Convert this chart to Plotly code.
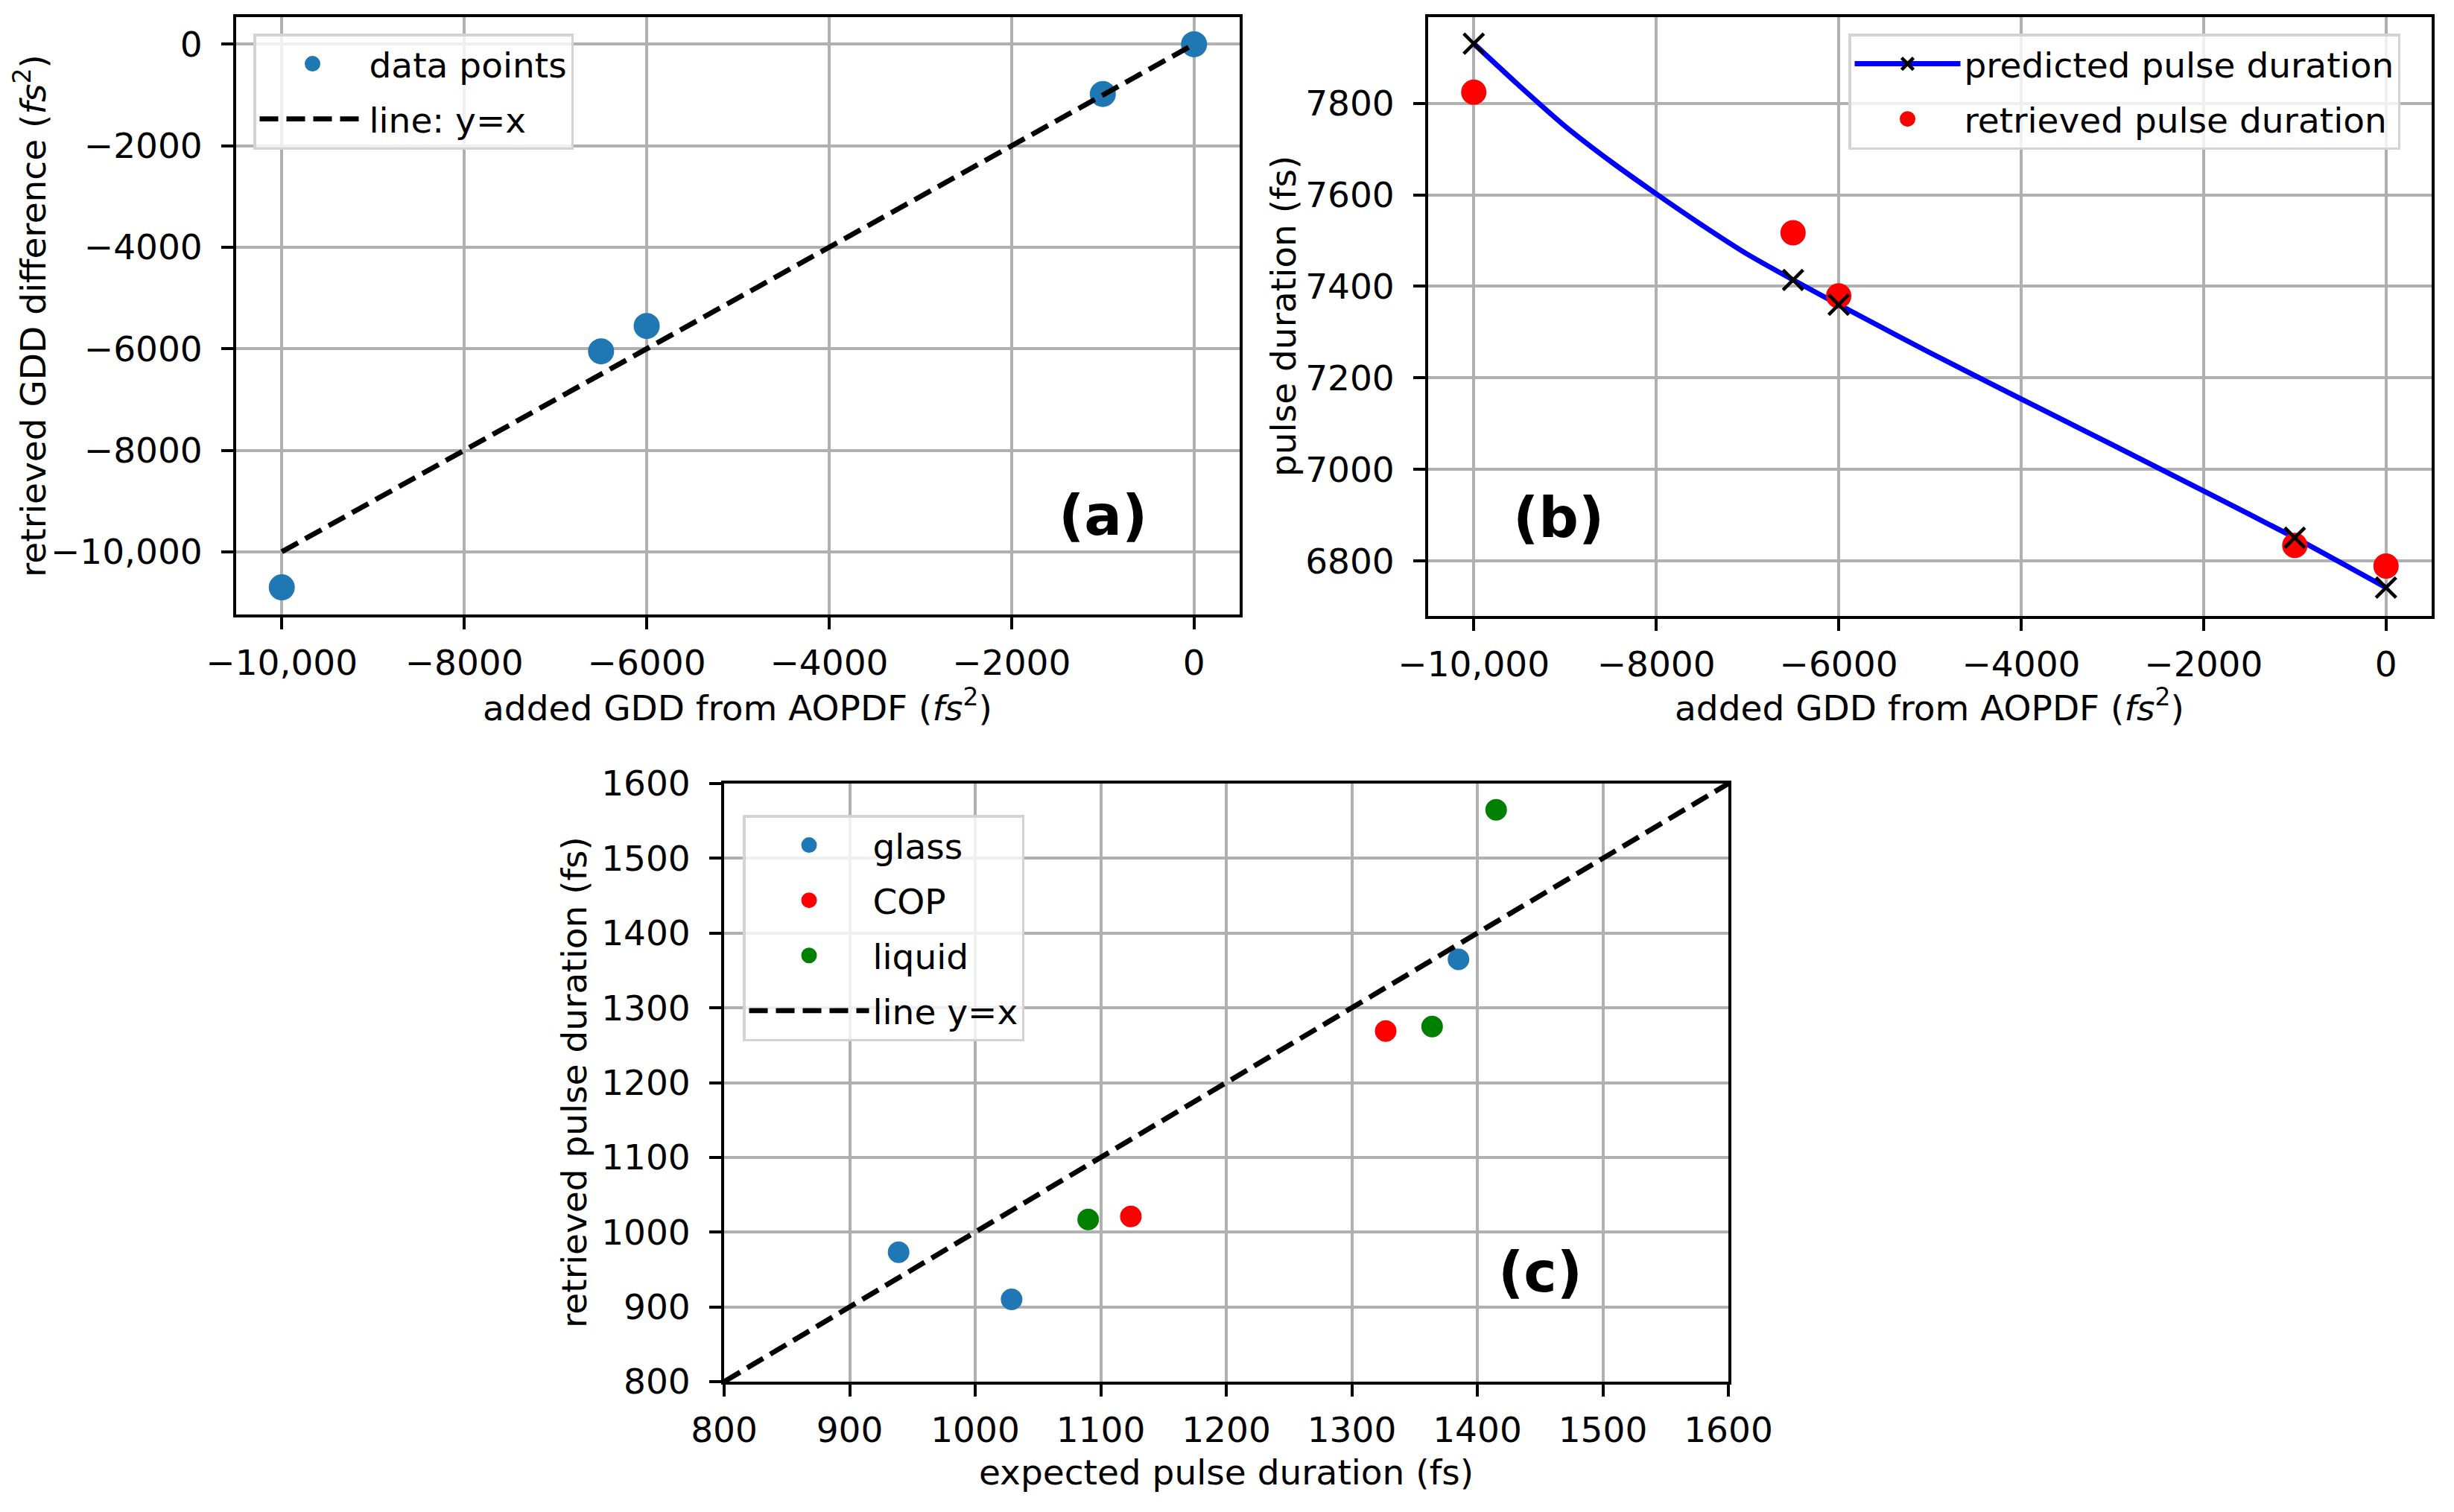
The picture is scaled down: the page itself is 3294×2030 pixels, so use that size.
import plotly.graph_objects as go

# ---------------- data ----------------
# panel (a)
gdd_added = [-10000, -6500, -6000, -1000, 0]
gdd_retrieved = [-10700, -6050, -5550, -980, 0]
line_a = [-10000, 0]

# panel (b)
pred_gdd = [-10000, -6500, -6000, -1000, 0]
pred_tau = [7930, 7414, 7360, 6851, 6742]
ret_tau = [7824, 7517, 7379, 6834, 6789]
curve_gdd = [-10000, -9500, -9000, -8500, -8000, -7500, -7000, -6500, -6000,
             -5000, -4000, -3000, -2000, -1000, 0]
curve_tau = [7930, 7838, 7750, 7673, 7602, 7534, 7470, 7414, 7360,
             7255, 7154, 7054, 6953, 6851, 6742]

# panel (c)
glass_exp = [939, 1029, 1385]
glass_ret = [973, 910, 1365]
cop_exp = [1124, 1327]
cop_ret = [1021, 1269]
liquid_exp = [1090, 1364, 1415]
liquid_ret = [1017, 1275, 1565]
line_c = [800, 1600]

# tick labels
gdd_ticks = [-10000, -8000, -6000, -4000, -2000, 0]
gdd_ticktext = ["\u221210,000", "\u22128000", "\u22126000", "\u22124000", "\u22122000", "0"]
tau_ticks = [6800, 7000, 7200, 7400, 7600, 7800]
tau_ticktext = ["6800", "7000", "7200", "7400", "7600", "7800"]
c_ticks = [800, 900, 1000, 1100, 1200, 1300, 1400, 1500, 1600]
c_ticktext = [str(v) for v in c_ticks]

# texts
gdd_title = "added GDD from AOPDF (<i>fs</i><sup>2</sup>)"
ya_title = "retrieved GDD difference (<i>fs</i><sup>2</sup>)"
yb_title = "pulse duration (fs)"
xc_title = "expected pulse duration (fs)"
yc_title = "retrieved pulse duration (fs)"

W, H = 3294, 2030
FONT = "DejaVu Sans"
FS = 47
TAB_BLUE = "#1f77b4"
LW = 6.9
DASH = "25px,11px"
AXW = 3.7
OUT = 5  # marker outline (same colour) so legend symbols are drawn larger


def dot(color, diameter):
    return dict(color=color, size=diameter - OUT, line=dict(color=color, width=OUT))


XMARK = dict(symbol="x-thin", size=27, line=dict(color="black", width=4.6))

fig = go.Figure()

# ---- panel (a)
fig.add_trace(go.Scatter(x=gdd_added, y=gdd_retrieved, mode="markers", name="data points",
                         marker=dot(TAB_BLUE, 35), xaxis="x", yaxis="y",
                         legend="legend", legendgroup="a1"))
fig.add_trace(go.Scatter(x=line_a, y=line_a, mode="lines", name="line: y=x",
                         line=dict(color="black", width=LW, dash=DASH), xaxis="x", yaxis="y",
                         legend="legend", legendgroup="a2"))

# ---- panel (b)
fig.add_trace(go.Scatter(x=curve_gdd, y=curve_tau, mode="lines", showlegend=False,
                         line=dict(color="#0000ff", width=LW, shape="spline", smoothing=0.6),
                         xaxis="x2", yaxis="y2"))
fig.add_trace(go.Scatter(x=pred_gdd, y=ret_tau, mode="markers", showlegend=False,
                         marker=dot("#ff0000", 34), xaxis="x2", yaxis="y2"))
fig.add_trace(go.Scatter(x=pred_gdd, y=pred_tau, mode="markers", showlegend=False,
                         marker=XMARK, xaxis="x2", yaxis="y2"))
fig.add_trace(go.Scatter(x=[None], y=[None], mode="lines+markers", name="predicted pulse duration",
                         line=dict(color="#0000ff", width=LW), marker=XMARK,
                         xaxis="x2", yaxis="y2", legend="legend2", legendgroup="b1"))
fig.add_trace(go.Scatter(x=[None], y=[None], mode="markers", name="retrieved pulse duration",
                         marker=dot("#ff0000", 34),
                         xaxis="x2", yaxis="y2", legend="legend2", legendgroup="b2"))

# ---- panel (c)
fig.add_trace(go.Scatter(x=glass_exp, y=glass_ret, mode="markers", name="glass",
                         marker=dot(TAB_BLUE, 29), xaxis="x3", yaxis="y3",
                         legend="legend3", legendgroup="c1"))
fig.add_trace(go.Scatter(x=cop_exp, y=cop_ret, mode="markers", name="COP",
                         marker=dot("#ff0000", 29), xaxis="x3", yaxis="y3",
                         legend="legend3", legendgroup="c2"))
fig.add_trace(go.Scatter(x=liquid_exp, y=liquid_ret, mode="markers", name="liquid",
                         marker=dot("#008000", 29), xaxis="x3", yaxis="y3",
                         legend="legend3", legendgroup="c3"))
fig.add_trace(go.Scatter(x=line_c, y=line_c, mode="lines", name="line y=x",
                         line=dict(color="black", width=LW, dash=DASH), xaxis="x3", yaxis="y3",
                         legend="legend3", legendgroup="c4"))


def axis(domain, rng, tickvals, ticktext, anchor, standoff):
    return dict(domain=domain, range=rng, tickvals=tickvals, ticktext=ticktext,
                anchor=anchor, showline=True, mirror=True, linecolor="black", linewidth=AXW,
                ticks="outside", ticklen=16, tickwidth=AXW, tickcolor="black",
                showgrid=True, gridcolor="#b0b0b0", gridwidth=AXW, zeroline=False,
                automargin=False,
                tickfont=dict(family=FONT, size=FS, color="black"), ticklabelstandoff=standoff)


xa_dom = [317 / W, 1664 / W]
xb_dom = [1917 / W, 3264 / W]
xc_dom = [972 / W, 2320 / W]
ya_dom = [1 - 825 / H, 1 - 23 / H]
yb_dom = [1 - 827 / H, 1 - 23 / H]
yc_dom = [1 - 1855 / H, 1 - 1052 / H]

legend_common = dict(bgcolor="rgba(255,255,255,0.8)", bordercolor="#d3d3d3", borderwidth=3.5,
                     font=dict(family=FONT, size=FS, color="black"), itemwidth=142,
                     tracegroupgap=10, xanchor="left", yanchor="top")

title_font = dict(family=FONT, size=FS, color="black")
label_font = dict(family=FONT, size=75, color="black")


def title_ann(text, x, y, angle=0):
    return dict(text=text, x=x / W, y=1 - y / H, xref="paper", yref="paper", showarrow=False,
                textangle=angle, xanchor="center", yanchor="middle", font=title_font)


fig.update_layout(
    width=W, height=H, margin=dict(l=0, r=0, t=0, b=0, autoexpand=False),
    paper_bgcolor="white", plot_bgcolor="white",
    font=dict(family=FONT, size=FS, color="black"),
    xaxis=axis(xa_dom, [-10500, 500], gdd_ticks, gdd_ticktext, "y", 5),
    yaxis=axis(ya_dom, [-11235, 535], gdd_ticks, gdd_ticktext, "x", 16),
    xaxis2=axis(xb_dom, [-10500, 500], gdd_ticks, gdd_ticktext, "y2", 5),
    yaxis2=axis(yb_dom, [6680, 7988], tau_ticks, tau_ticktext, "x2", 16),
    xaxis3=axis(xc_dom, [800, 1600], c_ticks, c_ticktext, "y3", 5),
    yaxis3=axis(yc_dom, [800, 1600], c_ticks, c_ticktext, "x3", 16),
    legend=dict(legend_common, x=340 / W, y=1 - 45 / H),
    legend2=dict(legend_common, x=3222 / W, y=1 - 45 / H, xanchor="right"),
    legend3=dict(legend_common, x=997 / W, y=1 - 1094 / H, itemwidth=161),
    annotations=[
        title_ann(gdd_title, 990, 947),
        title_ann(gdd_title, 2590, 947),
        title_ann(xc_title, 1646, 1976),
        title_ann(ya_title, 41, 424, -90),
        title_ann(yb_title, 1722, 425, -90),
        title_ann(yc_title, 770, 1453, -90),
        dict(text="<b>(a)</b>", x=-1000, y=-9280, xref="x", yref="y", showarrow=False,
             font=label_font),
        dict(text="<b>(b)</b>", x=-9075, y=6895, xref="x2", yref="y2", showarrow=False,
             font=label_font),
        dict(text="<b>(c)</b>", x=1450, y=946, xref="x3", yref="y3", showarrow=False,
             font=label_font),
    ],
)

fig.write_html("out.html", config={"displayModeBar": False},
               post_script="document.body.style.margin='0';"
                           "document.body.style.overflow='hidden';")
